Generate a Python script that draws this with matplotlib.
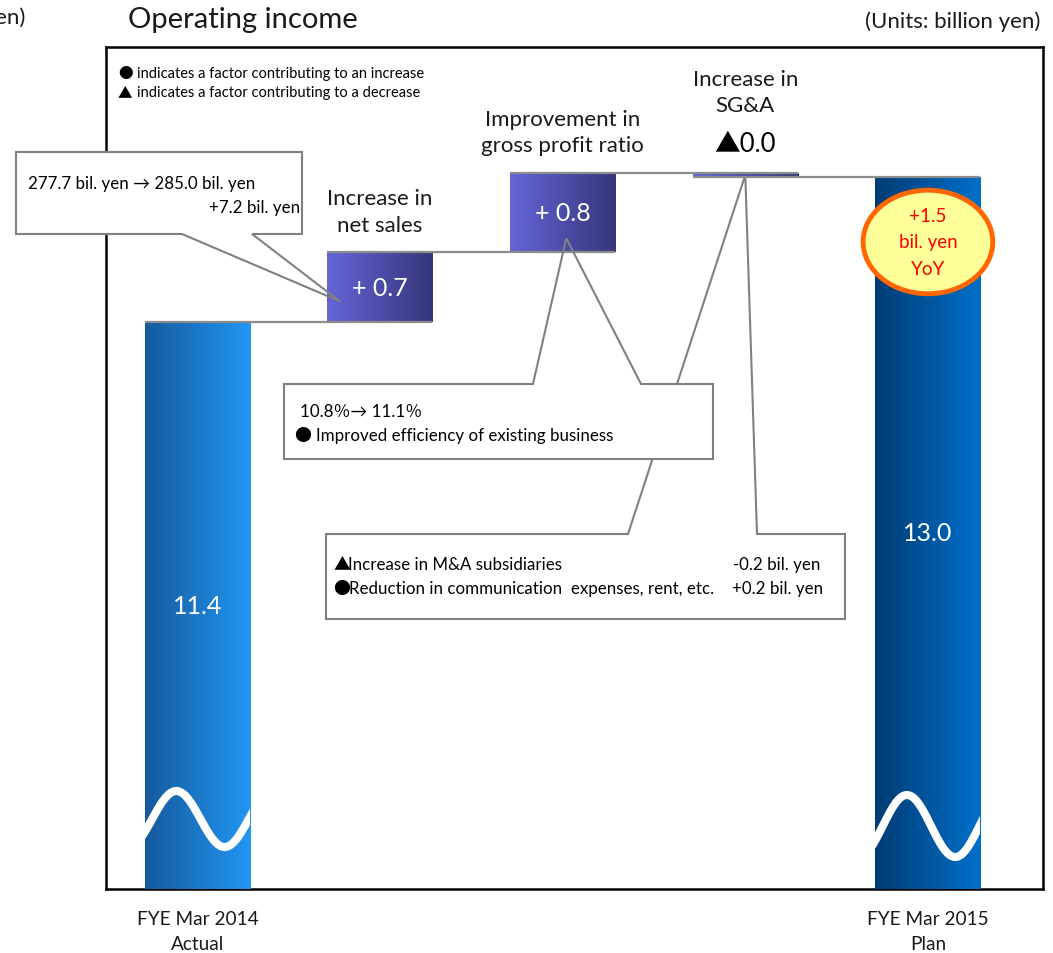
import numpy as np
import matplotlib
matplotlib.use('Agg')
import matplotlib.pyplot as plt
from matplotlib.colors import LinearSegmentedColormap
from matplotlib.patches import Polygon, Ellipse
from matplotlib.transforms import Affine2D, blended_transform_factory

plt.rcParams['font.family'] = ['Lato', 'Noto Sans CJK JP', 'DejaVu Sans']

# operating income bridge, billion yen
categories = ['FYE Mar 2014\nActual', 'Increase in\nnet sales',
              'Improvement in\ngross profit ratio', 'Increase in\nSG&A',
              'FYE Mar 2015\nPlan']
start_value = 11.44
changes = [0.74, 0.84, -0.04]
end_value = start_value + sum(changes)
yoy = end_value - start_value

W, H = 1053, 954
fig = plt.figure(figsize=(W / 100, H / 100), dpi=100)
ax = fig.add_axes([106 / W, 64 / H, 937 / W, 842 / H])
XLIM, YLIM = (-0.5, 4.63), (5.42, 14.36)
ax.set_xlim(*XLIM)
ax.set_ylim(*YLIM)

# pixel coords measured from the top-left corner of the image
pix = Affine2D().scale(1, -1).translate(0, H)


def to_px(x, y):
    dx, dy = ax.transData.transform((x, y))
    return dx, H - dy


xpos = np.arange(len(categories))
ybase = YLIM[0]
levels = start_value + np.concatenate([[0], np.cumsum(changes)])
step_bottoms = list(levels[:-1])
bar_bottoms = [ybase] + step_bottoms + [ybase]
bar_heights = [start_value - ybase] + changes + [end_value - ybase]
width = 0.575

bars = ax.bar(xpos, bar_heights, width, bottom=bar_bottoms, color='none', zorder=4)

step_cmap = LinearSegmentedColormap.from_list('step', ['#6565d8', '#36367a'])
cmaps = [LinearSegmentedColormap.from_list('a', ['#155a9e', '#2297f4']),
         step_cmap, step_cmap, step_cmap,
         LinearSegmentedColormap.from_list('p', ['#003b73', '#0070ca'])]
grad = np.linspace(0, 1, 256).reshape(1, -1)
for patch, cmap in zip(bars.patches, cmaps):
    x0, y0 = patch.get_x(), patch.get_y()
    w, h = patch.get_width(), patch.get_height()
    im = ax.imshow(grad, extent=[x0, x0 + w, min(y0, y0 + h), max(y0, y0 + h)],
                   aspect='auto', cmap=cmap, zorder=4, interpolation='bicubic')
    im.set_clip_path(patch)
ax.set_xlim(*XLIM)
ax.set_ylim(*YLIM)

# connectors between the steps
for i in range(4):
    ax.hlines(levels[i], xpos[i] - width / 2, xpos[i + 1] + width / 2,
              color='#8c8c8c', lw=1.6, zorder=4.5)

# broken-axis squiggles on the two totals
wave = blended_transform_factory(ax.transData, pix)
for i, c, a in [(0, 820, 28), (4, 827, 31)]:
    f = np.linspace(-0.05, 1.05, 200)
    xs = xpos[i] - width / 2 + f * width
    ys = c - a * np.sin(2 * np.pi * (f - 0.07) / 0.92)
    ln, = ax.plot(xs, ys, color='white', lw=5.8, transform=wave, zorder=4.3)
    ln.set_clip_path(bars.patches[i])

# values
ax.text(xpos[0], (ybase + start_value) / 2, f'{start_value:.1f}', color='white',
        ha='center', va='center', fontsize=18, zorder=6)
ax.text(xpos[4], (ybase + end_value) / 2, f'{end_value:.1f}', color='white',
        ha='center', va='center', fontsize=18, zorder=6)
for i, ch in enumerate(changes):
    x = xpos[i + 1]
    top = max(step_bottoms[i], step_bottoms[i] + ch)
    if ch > 0:
        ax.text(x, step_bottoms[i] + ch / 2, f'+ {ch:.1f}', color='white',
                ha='center', va='center', fontsize=18, zorder=6)
        ax.annotate(categories[i + 1], (x, top), xytext=(0, 41),
                    textcoords='offset pixels', ha='center', va='center',
                    fontsize=16, linespacing=1.4, color='#1a1a1a', zorder=6)
    else:
        ax.annotate(f'▲{abs(ch):.1f}', (x, top), xytext=(0, 30),
                    textcoords='offset pixels', ha='center', va='center',
                    fontsize=18.5, color='black', zorder=6)
        ax.annotate(categories[i + 1], (x, top), xytext=(0, 81),
                    textcoords='offset pixels', ha='center', va='center',
                    fontsize=16, linespacing=1.4, color='#1a1a1a', zorder=6)

# year-on-year bubble
ax.add_patch(Ellipse((xpos[4], end_value - 0.69), 0.71, 1.10, fc='#ffff99',
                     ec='#ff6600', lw=3.5, zorder=6))
ax.text(xpos[4], end_value - 0.69, f'+{yoy:.1f}\nbil. yen\nYoY', color='#ff0000',
        ha='center', va='center', fontsize=13.5, linespacing=1.65, zorder=7)


def callout(box, side, base, tip, fill_z, edge_z):
    x0, y0, x1, y1 = box
    b0, b1 = base
    if side == 'top':
        verts = [(x0, y0), (b0, y0), tip, (b1, y0), (x1, y0), (x1, y1), (x0, y1)]
    else:
        verts = [(x0, y0), (x1, y0), (x1, y1), (b1, y1), tip, (b0, y1), (x0, y1)]
    ax.add_patch(Polygon(verts, closed=True, fc='white', ec='none',
                         transform=pix, zorder=fill_z, clip_on=False))
    ax.add_patch(Polygon(verts, closed=True, fill=False, ec='#808080', lw=1.5,
                         transform=pix, zorder=edge_z, clip_on=False))


callout((16, 153, 302, 235), 'bottom', (182, 252),
        to_px(xpos[1] - 0.22, step_bottoms[0] + 0.22), 3.2, 5)
callout((326, 535, 845, 620), 'top', (628, 757),
        to_px(xpos[3], end_value + 0.02), 3.0, 3.1)
callout((284, 385, 713, 460), 'top', (533, 641),
        to_px(xpos[2] + 0.02, step_bottoms[1] + 0.15), 3.2, 5)


def note(x, y, s, size=12.2, ha='left', gap=0):
    # the bullet marks use the larger CJK glyphs
    if s[0] in '●▲':
        ax.text(x, y, s[0], transform=pix, ha='left', va='center', fontsize=size,
                family='Noto Sans CJK JP', color='black', zorder=6, clip_on=False)
        x, s = x + gap, s[1:].lstrip()
    ax.text(x, y, s, transform=pix, ha=ha, va='center', fontsize=size,
            color='black', zorder=6, clip_on=False)


note(28, 184, '277.7 bil. yen → 285.0 bil. yen')
note(300, 208, '+7.2 bil. yen', ha='right')
note(300, 412, '10.8％→ 11.1％')
note(294, 436, '● Improved efficiency of existing business', gap=22)
note(333, 565, '▲Increase in M&A subsidiaries', gap=15)
note(820, 565, '-0.2 bil. yen', ha='right')
note(333, 589, '●Reduction in communication  expenses, rent, etc.', gap=16)
note(823, 589, '+0.2 bil. yen', ha='right')
note(118, 74, '● indicates a factor contributing to an increase', size=10.5, gap=19)
note(118, 93, '▲ indicates a factor contributing to a decrease', size=10.5, gap=19)

ax.set_xticks([xpos[0], xpos[4]], [categories[0], categories[4]])
ax.tick_params(axis='x', length=0, pad=15, labelsize=13.7, labelcolor='#1a1a1a')
for lbl in ax.get_xticklabels():
    lbl.set_linespacing(1.6)
ax.set_yticks([])
for sp in ax.spines.values():
    sp.set_linewidth(1.8)
    sp.set_color('black')

fig.text(128 / W, 1 - 20 / H, 'Operating income', fontsize=21, va='center', ha='left',
         color='#1a1a1a')
fig.text(1040 / W, 1 - 22 / H, '(Units: billion yen)', fontsize=16, va='center',
         ha='right', color='#1a1a1a')
fig.text(25 / W, 1 - 18 / H, '(Units: billion yen)', fontsize=16, va='center',
         ha='right', color='#1a1a1a')

fig.savefig('out.png', dpi=100)
